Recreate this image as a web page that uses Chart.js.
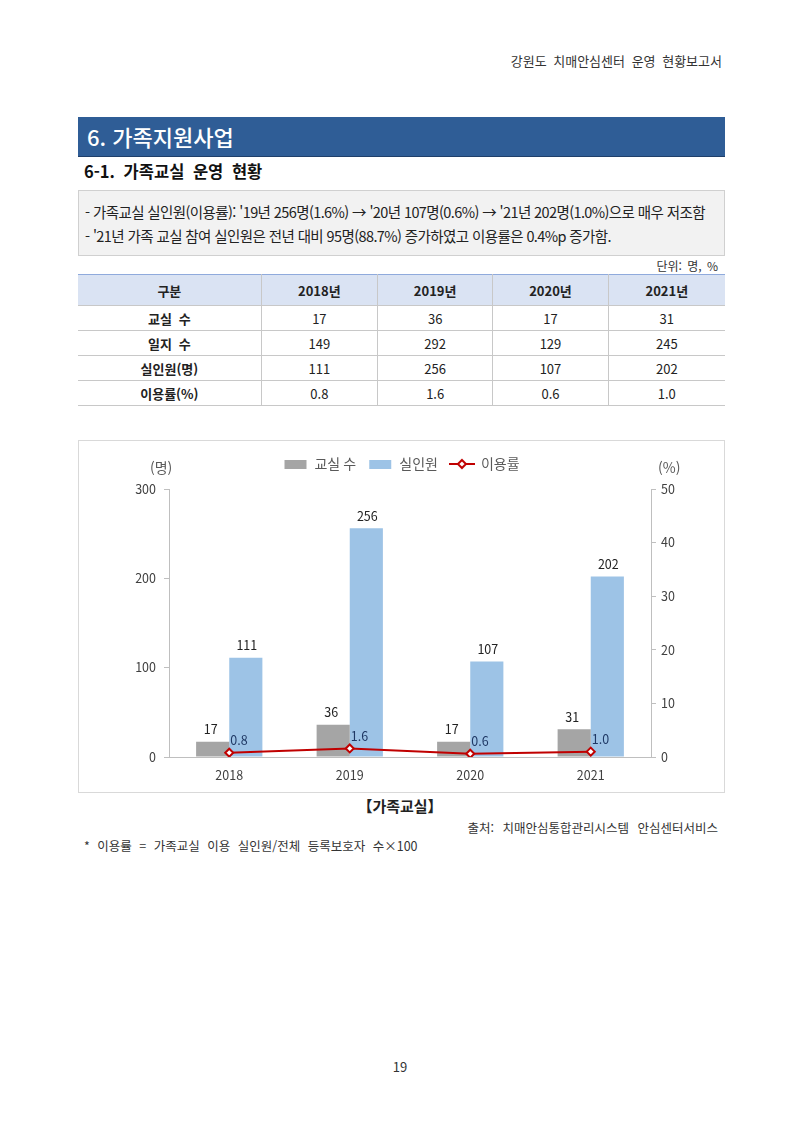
<!DOCTYPE html>
<html lang="ko">
<head>
<meta charset="utf-8">
<title>가족교실 운영 현황</title>
<script src="https://cdn.jsdelivr.net/npm/chart.js@4"></script>
<style>
  body { margin: 0; background: #fff; font-family: "Noto Sans CJK KR", "Noto Sans", sans-serif; color: #222; }
  .page { position: relative; width: 800px; height: 1131px; overflow: hidden; }
  .abs { position: absolute; white-space: nowrap; }
  .header { right: 78px; top: 51px; font-size: 13px; color: #333; word-spacing: 3px; }
  .titlebar { left: 78px; top: 117px; width: 647px; height: 39px; background: #2f5d96; border-bottom: 1px solid #1f3f6a; }
  .titlebar span { position: absolute; left: 9px; top: 3px; color: #fff; font-size: 22px; font-weight: 500; }
  .subtitle { left: 84px; top: 159px; font-size: 16.5px; font-weight: 700; color: #111; word-spacing: 4px; }
  .summary { left: 78px; top: 190px; width: 645px; height: 64px; background: #f2f2f2; border: 1px solid #d0d0d0; }
  .summary div { position: absolute; left: 6px; font-size: 14.5px; letter-spacing: -0.6px; color: #222; }
  .unit { right: 82px; top: 257px; font-size: 12px; color: #333; word-spacing: 2px; }
  table.data { position: absolute; left: 78px; top: 274px; width: 647px; border-collapse: collapse; font-size: 13px; }
  table.data td, table.data th { border: 1px solid #c8c8c8; text-align: center; padding: 0; height: 24px; }
  table.data tr:first-child th { height: 30px; background: #dae3f3; font-weight: 700; border-top: 1px solid #8faadc; }
  table.data th.row { font-weight: 700; word-spacing: 3px; }
  table.data tr > *:first-child { border-left: none; }
  table.data tr > *:last-child { border-right: none; }
  .chartbox { left: 78px; top: 440px; width: 645px; height: 351px; border: 1px solid #d9d9d9; }
  .chartbox canvas { position: absolute; left: 0; top: 0; }
  .axisunit { font-size: 14px; color: #595959; }
  .caption { left: 0; width: 800px; top: 795px; text-align: center; font-size: 15px; font-weight: 700; }
  .source { right: 82px; top: 818px; font-size: 12.5px; color: #333; word-spacing: 5px; }
  .note { left: 84px; top: 836px; font-size: 12.5px; color: #333; word-spacing: 4px; }
  .pageno { left: 0; width: 800px; top: 1057px; text-align: center; font-size: 13px; color: #333; }
</style>
</head>
<body>
<div class="page">
  <div class="abs header">강원도 치매안심센터 운영 현황보고서</div>
  <div class="abs titlebar"><span>6. 가족지원사업</span></div>
  <div class="abs subtitle">6-1. 가족교실 운영 현황</div>
  <div class="abs summary">
    <div style="top:10px">- 가족교실 실인원(이용률): '19년 256명(1.6%) → '20년 107명(0.6%) → '21년 202명(1.0%)으로 매우 저조함</div>
    <div style="top:34px">- '21년 가족 교실 참여 실인원은 전년 대비 95명(88.7%) 증가하였고 이용률은 0.4%p 증가함.</div>
  </div>
  <div class="abs unit">단위: 명, %</div>
  <table class="data" id="data-table"></table>

  <div class="abs chartbox">
    <canvas id="chart" width="645" height="351"></canvas>
    <div class="abs axisunit" style="left:71px; top:16px;">(명)</div>
    <div class="abs axisunit" style="left:579px; top:16px;">(%)</div>
  </div>
  <div class="abs caption">【가족교실】</div>
  <div class="abs source">출처: 치매안심통합관리시스템 안심센터서비스</div>
  <div class="abs note">* 이용률 = 가족교실 이용 실인원/전체 등록보호자 수×100</div>
  <div class="abs pageno">19</div>
</div>

<script>
const years = ['2018', '2019', '2020', '2021'];
const classCount = [17, 36, 17, 31];
const diaryCount = [149, 292, 129, 245];
const participants = [111, 256, 107, 202];
const useRate = [0.8, 1.6, 0.6, 1.0];

const rowNames = ['교실 수', '일지 수', '실인원(명)', '이용률(%)'];
const seriesNames = ['교실 수', '실인원', '이용률'];

// Table
function populateTable() {
    const table = document.getElementById('data-table');
    const head = table.insertRow();
    const widths = [184, 116, 115, 115, 117];
    ['구분'].concat(years.map(y => y + '년')).forEach((txt, i) => {
        const th = document.createElement('th');
        th.textContent = txt;
        th.style.width = widths[i] + 'px';
        head.appendChild(th);
    });
    const rows = [classCount, diaryCount, participants, useRate.map(v => v.toFixed(1))];
    rows.forEach((vals, r) => {
        const row = table.insertRow();
        const th = document.createElement('th');
        th.className = 'row';
        th.textContent = rowNames[r];
        row.appendChild(th);
        vals.forEach(v => { row.insertCell().textContent = v; });
    });
}

// Legend swatches
function swatch(kind, color) {
    const c = document.createElement('canvas');
    c.width = 26; c.height = 12;
    const g = c.getContext('2d');
    if (kind === 'rect') {
        g.fillStyle = color;
        g.fillRect(2, 2, 22, 9);
    } else {
        g.strokeStyle = color; g.lineWidth = 2;
        g.beginPath(); g.moveTo(0, 6); g.lineTo(26, 6); g.stroke();
        g.fillStyle = '#fff';
        g.beginPath(); g.moveTo(13, 2); g.lineTo(17, 6); g.lineTo(13, 10); g.lineTo(9, 6); g.closePath();
        g.fill(); g.stroke();
    }
    return c;
}

// Extra gap under the legend
const legendGap = {
    id: 'legendGap',
    beforeInit(chart) {
        const fit = chart.legend.fit;
        chart.legend.fit = function () {
            fit.bind(chart.legend)();
            this.height += 8;
        };
    }
};

// Value labels above bars and points
const valueLabels = {
    id: 'valueLabels',
    afterDatasetsDraw(chart) {
        const ctx = chart.ctx;
        ctx.save();
        ctx.font = '12.5px "Noto Sans CJK KR", sans-serif';
        ctx.textBaseline = 'bottom';
        chart.data.datasets.forEach((ds, i) => {
            const meta = chart.getDatasetMeta(i);
            meta.data.forEach((el, j) => {
                const v = ds.data[j];
                if (ds.type === 'line') {
                    ctx.fillStyle = '#1f3864';
                    ctx.textAlign = 'left';
                    ctx.fillText(v.toFixed(1), el.x + 1, el.y - 6);
                } else {
                    ctx.fillStyle = '#222';
                    ctx.textAlign = 'center';
                    ctx.fillText(v, el.x - (i === 0 ? 2 : -1), el.y - 6);
                }
            });
        });
        ctx.restore();
    }
};

function createGraph() {
    const ctx = document.getElementById('chart').getContext('2d');
    const tickFont = { family: '"Noto Sans CJK KR", sans-serif', size: 12.5 };
    new Chart(ctx, {
        data: {
            labels: years,
            datasets: [
                {
                    type: 'bar', label: seriesNames[0], data: classCount,
                    backgroundColor: '#a5a5a5', yAxisID: 'y', order: 2,
                    categoryPercentage: 0.55, barPercentage: 1.0,
                    pointStyle: swatch('rect', '#a5a5a5')
                },
                {
                    type: 'bar', label: seriesNames[1], data: participants,
                    backgroundColor: '#9dc3e6', yAxisID: 'y', order: 2,
                    categoryPercentage: 0.55, barPercentage: 1.0,
                    pointStyle: swatch('rect', '#9dc3e6')
                },
                {
                    type: 'line', label: seriesNames[2], data: useRate,
                    borderColor: '#c00000', borderWidth: 2,
                    pointStyle: 'rectRot', pointRadius: 4, pointBorderWidth: 2,
                    pointBackgroundColor: '#fff', pointBorderColor: '#c00000',
                    yAxisID: 'y1', order: 1
                }
            ]
        },
        options: {
            responsive: false,
            animation: false,
            layout: { padding: { top: 4, left: 0, right: 0, bottom: 0 } },
            plugins: {
                tooltip: { enabled: false },
                legend: {
                    position: 'top',
                    labels: {
                        usePointStyle: true,
                        pointStyleWidth: 24,
                        padding: 12,
                        color: '#595959',
                        font: { family: '"Noto Sans CJK KR", sans-serif', size: 14 },
                        generateLabels(chart) {
                            return chart.data.datasets.map((ds, i) => ({
                                text: ds.label,
                                pointStyle: ds.type === 'line' ? swatch('line', '#c00000') : ds.pointStyle,
                                fontColor: '#595959',
                                lineWidth: 0,
                                datasetIndex: i
                            }));
                        }
                    }
                }
            },
            scales: {
                x: {
                    grid: { display: false },
                    border: { display: true, color: '#bfbfbf' },
                    ticks: { color: '#404040', font: tickFont, padding: 3 },
                    afterFit(scale) { scale.height = 35; }
                },
                y: {
                    position: 'left', min: 0, max: 300,
                    ticks: { stepSize: 100, color: '#404040', font: tickFont, padding: 8 },
                    grid: { drawOnChartArea: false, tickLength: 5, color: '#bfbfbf' },
                    border: { color: '#bfbfbf' },
                    afterFit(scale) { scale.width = 90; }
                },
                y1: {
                    position: 'right', min: 0, max: 50,
                    ticks: { stepSize: 10, color: '#404040', font: tickFont, padding: 5 },
                    grid: { drawOnChartArea: false, tickLength: 5, color: '#bfbfbf' },
                    border: { color: '#bfbfbf' },
                    afterFit(scale) { scale.width = 73; }
                }
            }
        },
        plugins: [legendGap, valueLabels]
    });
}

populateTable();
createGraph();
</script>
</body>
</html>
